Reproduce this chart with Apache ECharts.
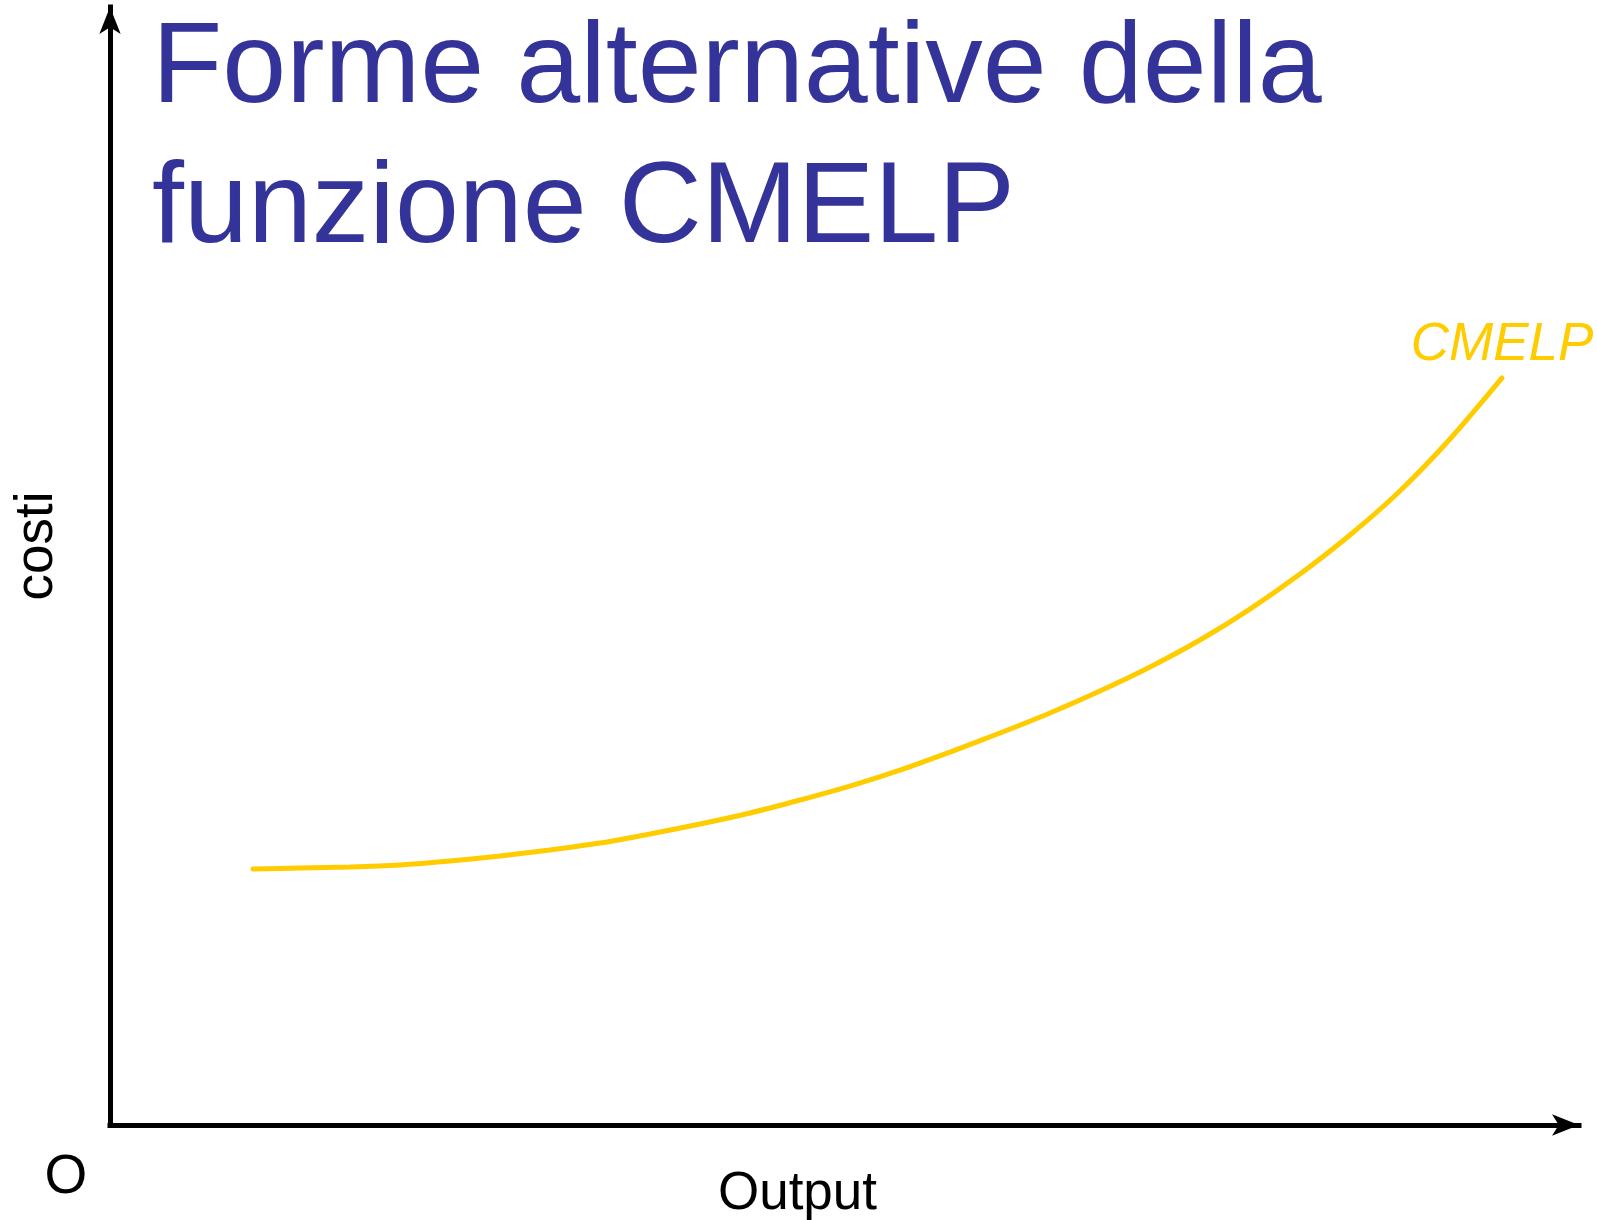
<!DOCTYPE html>
<html>
<head>
<meta charset="utf-8">
<script src="https://cdn.jsdelivr.net/npm/echarts@6/dist/echarts.min.js"></script>
<style>
html,body{margin:0;padding:0;background:#fff;}
#chart{width:1597px;height:1220px;}
</style>
</head>
<body>
<div id="chart"></div>
<script>
// Data
const titleLines = ['Forme alternative della', 'funzione CMELP'];
const seriesName = 'CMELP';
const xName = 'Output';
const yName = 'costi';
const originLabel = 'O';
const outputValues = [9.73, 12.93, 16.34, 19.74, 23.14, 26.55, 29.95, 33.36, 36.76, 40.16, 43.57, 46.97, 50.37,
                      53.78, 57.18, 60.59, 63.99, 67.39, 70.80, 74.20, 77.60, 81.01, 84.41, 87.81, 91.22, 94.76];
const costValues   = [22.90, 22.99, 23.08, 23.26, 23.61, 24.06, 24.60, 25.22, 26.03, 26.92, 27.91, 29.07, 30.32,
                      31.75, 33.36, 35.06, 36.85, 38.82, 40.97, 43.38, 46.15, 49.28, 52.77, 56.71, 61.36, 66.82];

const lineColor = '#FFCC00';
const fontFam = 'Liberation Sans, Arial, sans-serif';
const data = outputValues.map((x, i) => {
  const item = { value: [x, costValues[i]] };
  if (i === outputValues.length - 1) {
    item.label = {
      show: true,
      position: 'top',
      distance: 6,
      formatter: seriesName,
      color: lineColor,
      fontSize: 53,
      fontStyle: 'italic',
      fontFamily: fontFam
    };
  }
  return item;
});

const chart = echarts.init(document.getElementById('chart'), null, { renderer: 'canvas' });
const axisLineStyle = { color: '#000', width: 5, cap: 'square' };
chart.setOption({
  animation: false,
  backgroundColor: '#fff',
  title: {
    text: titleLines.join('\n'),
    left: 152,
    top: 0,
    padding: 0,
    textStyle: {
      color: '#333399',
      fontSize: 115,
      lineHeight: 140,
      fontWeight: 'normal',
      fontFamily: fontFam
    }
  },
  grid: { left: 110, right: 18, top: 7, bottom: 95, containLabel: false, outerBoundsMode: 'none' },
  xAxis: {
    type: 'value', min: 0, max: 100,
    name: xName, nameLocation: 'middle', nameGap: 43,
    nameTextStyle: { color: '#000', fontSize: 53, fontFamily: fontFam, padding: [0, 94, 0, 0] },
    axisLine: { show: true, symbol: ['none', 'arrow'], symbolSize: [16, 27], lineStyle: axisLineStyle },
    axisTick: { show: false }, axisLabel: { show: false }, splitLine: { show: false }
  },
  yAxis: {
    type: 'value', min: 0, max: 100,
    name: yName, nameLocation: 'middle', nameGap: 46, nameRotate: 90,
    nameTextStyle: { color: '#000', fontSize: 53, fontFamily: fontFam, padding: [0, 0, 0, 40] },
    axisLine: { show: true, symbol: ['none', 'arrow'], symbolSize: [16, 27], lineStyle: axisLineStyle },
    axisTick: { show: false }, axisLabel: { show: false }, splitLine: { show: false }
  },
  graphic: [{
    type: 'text',
    x: 66, y: 1178,
    style: {
      text: originLabel,
      fill: '#000',
      fontSize: 55,
      fontFamily: fontFam,
      textAlign: 'center',
      textVerticalAlign: 'middle'
    }
  }],
  series: [{
    name: seriesName,
    type: 'line',
    smooth: 0.3,
    showSymbol: true,
    symbol: 'circle',
    symbolSize: 1,
    itemStyle: { color: 'rgba(0,0,0,0)', borderWidth: 0 },
    data: data,
    lineStyle: { color: lineColor, width: 5, cap: 'round' },
    labelLayout: { hideOverlap: false }
  }]
});
</script>
</body>
</html>
